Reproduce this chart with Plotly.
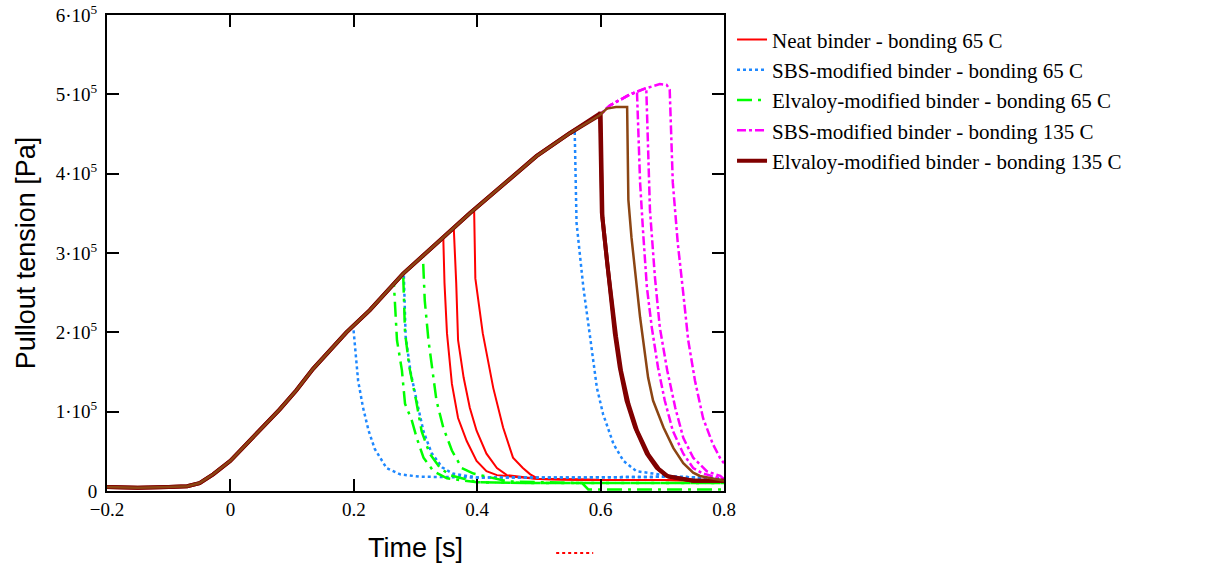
import plotly.graph_objects as go

# ---------------- data (time in s, tension in Pa) ----------------
# common loading envelope (all specimens follow it until failure)
t_rise = [-0.2, -0.15, -0.1, -0.07, -0.05, -0.028, 0.0, 0.026, 0.053, 0.080, 0.107,
          0.134, 0.161, 0.188, 0.226, 0.280, 0.334, 0.388, 0.442, 0.496, 0.550, 0.599]
p_rise = [5e3, 4e3, 5e3, 6e3, 1.0e4, 2.1e4, 3.8e4, 5.9e4, 8.0e4, 1.03e5, 1.27e5,
          1.54e5, 1.77e5, 2.00e5, 2.28e5, 2.74e5, 3.12e5, 3.50e5, 3.86e5, 4.22e5, 4.51e5, 4.74e5]
# continuation of the envelope for the SBS 135 C specimens
t_peak_sbs135 = [0.615, 0.648, 0.675, 0.696, 0.707]
p_peak_sbs135 = [4.86e5, 5.00e5, 5.08e5, 5.13e5, 5.12e5]

# Neat binder - 65 C (3 replicates)
t_neat1 = [0.345, 0.347, 0.351, 0.359, 0.369, 0.383, 0.399, 0.415, 0.432]
p_neat1 = [3.20e5, 2.62e5, 1.99e5, 1.35e5, 0.92e5, 0.63e5, 0.38e5, 0.25e5, 0.20e5]
t_neat2 = [0.362, 0.366, 0.369, 0.378, 0.388, 0.399, 0.415, 0.432, 0.448]
p_neat2 = [3.32e5, 2.62e5, 1.90e5, 1.43e5, 1.05e5, 0.76e5, 0.47e5, 0.29e5, 0.20e5]
t_neat3 = [0.395, 0.397, 0.409, 0.426, 0.442, 0.458, 0.474, 0.486]
p_neat3 = [3.55e5, 2.68e5, 1.99e5, 1.30e5, 0.80e5, 0.42e5, 0.29e5, 0.21e5]
t_neat_tail = [0.5, 0.6, 0.7, 0.8]
p_neat_tail = [1.5e4, 1.4e4, 1.4e4, 1.3e4]

# SBS-modified binder - 65 C
t_sbs1 = [0.199, 0.202, 0.207, 0.215, 0.224, 0.234, 0.253, 0.275, 0.307]
p_sbs1 = [2.08e5, 1.82e5, 1.39e5, 1.05e5, 0.76e5, 0.53e5, 0.29e5, 0.21e5, 0.18e5]
t_sbs2 = [0.281, 0.284, 0.292, 0.303, 0.313, 0.326, 0.343, 0.360]
p_sbs2 = [2.75e5, 1.95e5, 1.50e5, 1.10e5, 0.75e5, 0.48e5, 0.30e5, 0.22e5]
t_sbs3 = [0.558, 0.561, 0.572, 0.583, 0.594, 0.604, 0.621, 0.637, 0.658, 0.685]
p_sbs3 = [4.55e5, 3.38e5, 2.57e5, 1.94e5, 1.30e5, 0.97e5, 0.59e5, 0.38e5, 0.25e5, 0.22e5]
t_sbs_tail = [0.4, 0.55, 0.72, 0.8]
p_sbs_tail = [1.7e4, 1.7e4, 1.8e4, 1.6e4]

# Elvaloy-modified binder - 65 C
t_elv1 = [0.265, 0.270, 0.278, 0.283, 0.294, 0.302, 0.313, 0.329, 0.351]
p_elv1 = [2.61e5, 1.90e5, 1.52e5, 1.10e5, 0.89e5, 0.67e5, 0.42e5, 0.25e5, 0.16e5]
t_elv2 = [0.280, 0.283, 0.290, 0.301, 0.310, 0.323, 0.340, 0.356]
p_elv2 = [2.74e5, 2.00e5, 1.56e5, 1.14e5, 0.75e5, 0.47e5, 0.29e5, 0.20e5]
t_elv3 = [0.312, 0.315, 0.321, 0.329, 0.334, 0.345, 0.359, 0.375, 0.394]
p_elv3 = [2.96e5, 2.40e5, 1.90e5, 1.43e5, 1.14e5, 0.80e5, 0.51e5, 0.29e5, 0.22e5]
t_elv_tail = [0.4, 0.5, 0.6, 0.7, 0.8]
p_elv_tail = [1.1e4, 1.0e4, 1.0e4, 1.0e4, 1.0e4]
t_elv3_tail = [0.45, 0.57, 0.58, 0.8]
p_elv3_tail = [1.2e4, 1.0e4, 2e3, 2e3]

# SBS-modified binder - 135 C
t_sbsh1 = [0.659, 0.664, 0.669, 0.675, 0.683, 0.693, 0.704, 0.717, 0.734, 0.750, 0.766]
p_sbsh1 = [5.03e5, 3.89e5, 3.25e5, 2.57e5, 2.06e5, 1.56e5, 1.14e5, 0.76e5, 0.47e5, 0.29e5, 0.22e5]
t_sbsh2 = [0.674, 0.680, 0.688, 0.696, 0.708, 0.721, 0.734, 0.750, 0.772, 0.794]
p_sbsh2 = [5.08e5, 3.54e5, 2.70e5, 2.06e5, 1.52e5, 1.05e5, 0.67e5, 0.42e5, 0.25e5, 0.19e5]
t_sbsh3 = [0.712, 0.717, 0.725, 0.734, 0.742, 0.753, 0.766, 0.782, 0.794, 0.800]
p_sbsh3 = [5.06e5, 3.89e5, 3.13e5, 2.49e5, 1.90e5, 1.39e5, 0.92e5, 0.59e5, 0.41e5, 0.35e5]
t_sbsh_tail = [0.8]
p_sbsh_tail = [1.5e4]

# Elvaloy-modified binder - 135 C
t_elvh1 = [0.599, 0.602, 0.610, 0.615, 0.623, 0.631, 0.642, 0.656, 0.675, 0.691, 0.707]
p_elvh1 = [4.76e5, 3.51e5, 2.91e5, 2.49e5, 1.99e5, 1.56e5, 1.14e5, 0.80e5, 0.47e5, 0.29e5, 0.19e5]
t_elvh2 = [0.600, 0.603, 0.611, 0.617, 0.625, 0.633, 0.645, 0.659, 0.678, 0.694, 0.710]
p_elvh2 = [4.78e5, 3.45e5, 2.85e5, 2.45e5, 1.95e5, 1.52e5, 1.10e5, 0.76e5, 0.45e5, 0.28e5, 0.18e5]
t_elvh3 = [0.610, 0.625, 0.643, 0.645, 0.650, 0.664, 0.677, 0.685, 0.702, 0.718, 0.734, 0.750, 0.761]
p_elvh3 = [4.82e5, 4.84e5, 4.84e5, 3.67e5, 3.20e5, 2.19e5, 1.43e5, 1.14e5, 0.80e5, 0.54e5, 0.35e5, 0.23e5, 0.19e5]
t_elvh_tail = [0.75, 0.8]
p_elvh_tail = [1.3e4, 1.3e4]

x_ticks = [-0.2, 0.0, 0.2, 0.4, 0.6, 0.8]
x_ticktext = ["\u22120.2", "0", "0.2", "0.4", "0.6", "0.8"]
y_ticks = [0, 1e5, 2e5, 3e5, 4e5, 5e5, 6e5]
y_ticktext = ["0", "1\u00b710<sup>5</sup>", "2\u00b710<sup>5</sup>", "3\u00b710<sup>5</sup>",
              "4\u00b710<sup>5</sup>", "5\u00b710<sup>5</sup>", "6\u00b710<sup>5</sup>"]

names = ["Neat binder - bonding 65 C", "SBS-modified binder - bonding 65 C",
         "Elvaloy-modified binder - bonding 65 C", "SBS-modified binder - bonding 135 C",
         "Elvaloy-modified binder - bonding 135 C"]


def build(t_env, p_env, t_fail, p_fail, t_tail, p_tail):
    t = [a for a in t_env if a < t_fail[0]]
    p = [b for a, b in zip(t_env, p_env) if a < t_fail[0]]
    t += list(t_fail)
    p += list(p_fail)
    for a, b in zip(t_tail, p_tail):
        if a > t[-1]:
            t.append(a)
            p.append(b)
    return t, p


env_sbs135_t = t_rise + t_peak_sbs135
env_sbs135_p = p_rise + p_peak_sbs135

groups = [
    (names[0], "#FF0000", "solid", 2,
     [(t_rise, p_rise, t_neat1, p_neat1, t_neat_tail, p_neat_tail),
      (t_rise, p_rise, t_neat2, p_neat2, t_neat_tail, p_neat_tail),
      (t_rise, p_rise, t_neat3, p_neat3, t_neat_tail, p_neat_tail)]),
    (names[1], "#1E88FF", "dot", 2.5,
     [(t_rise, p_rise, t_sbs1, p_sbs1, t_sbs_tail, p_sbs_tail),
      (t_rise, p_rise, t_sbs2, p_sbs2, t_sbs_tail, p_sbs_tail),
      (t_rise, p_rise, t_sbs3, p_sbs3, t_sbs_tail, p_sbs_tail)]),
    (names[2], "#00FF00", "longdashdot", 2.5,
     [(t_rise, p_rise, t_elv1, p_elv1, t_elv_tail, p_elv_tail),
      (t_rise, p_rise, t_elv2, p_elv2, t_elv_tail, p_elv_tail),
      (t_rise, p_rise, t_elv3, p_elv3, t_elv3_tail, p_elv3_tail)]),
    (names[3], "#FF00FF", "dashdot", 2.5,
     [(env_sbs135_t, env_sbs135_p, t_sbsh1, p_sbsh1, t_sbsh_tail, p_sbsh_tail),
      (env_sbs135_t, env_sbs135_p, t_sbsh2, p_sbsh2, t_sbsh_tail, p_sbsh_tail),
      (env_sbs135_t, env_sbs135_p, t_sbsh3, p_sbsh3, t_sbsh_tail, p_sbsh_tail)]),
    (names[4], "#800000", "solid", 4,
     [(t_rise, p_rise, t_elvh1, p_elvh1, t_elvh_tail, p_elvh_tail),
      (t_rise, p_rise, t_elvh2, p_elvh2, t_elvh_tail, p_elvh_tail)]),
]

fig = go.Figure()
for name, color, dash, width, reps in groups:
    for i, rep in enumerate(reps):
        t, p = build(*rep)
        fig.add_trace(go.Scatter(
            x=t, y=p, mode="lines", name=name, legendgroup=name,
            showlegend=(i == 0),
            line=dict(color=color, dash=dash, width=width)))

# third Elvaloy 135 C replicate, drawn in brown
t, p = build(t_rise, p_rise, t_elvh3, p_elvh3, t_elvh_tail, p_elvh_tail)
fig.add_trace(go.Scatter(x=t, y=p, mode="lines", name=names[4], legendgroup=names[4],
                         showlegend=False, line=dict(color="#8B4513", width=2.5)))

axis_common = dict(showline=True, linecolor="black", linewidth=2, mirror="ticks",
                   ticks="inside", ticklen=12, tickwidth=2, tickcolor="black",
                   showgrid=False, zeroline=False, automargin=False,
                   tickfont=dict(family="Liberation Serif", size=19, color="black"))

fig.update_layout(
    width=1214, height=565,
    margin=dict(l=107, r=490, t=15, b=74),
    plot_bgcolor="white", paper_bgcolor="white",
    xaxis=dict(range=[-0.2, 0.8], tickvals=x_ticks, ticktext=x_ticktext,
               title=dict(text="Time [s]", standoff=19,
                          font=dict(family="Liberation Sans", size=27, color="black")),
               **axis_common),
    yaxis=dict(range=[0, 6e5], tickvals=y_ticks, ticktext=y_ticktext,
               ticklabelstandoff=4,
               title=dict(text="Pullout tension [Pa]", standoff=12,
                          font=dict(family="Liberation Sans", size=27, color="black")),
               **axis_common),
    legend=dict(x=1.013, y=0.991, xanchor="left", yanchor="top",
                font=dict(family="Liberation Serif", size=21, color="black"),
                tracegroupgap=0, bgcolor="rgba(0,0,0,0)"),
    showlegend=True,
)

# small red dotted mark below the axis
fig.add_shape(type="line", xref="paper", yref="paper", x0=0.728, x1=0.788,
              y0=-0.13, y1=-0.13, line=dict(color="red", width=2, dash="dot"))

fig.write_html("out.html")
